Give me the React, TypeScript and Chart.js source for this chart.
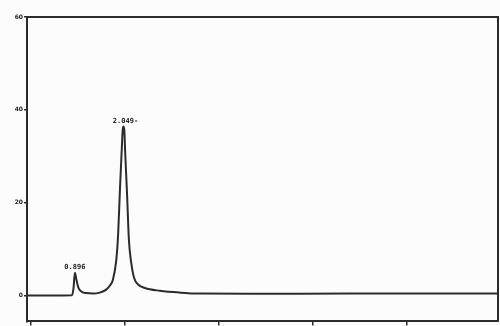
import React, { useEffect, useRef } from "react";
import { Chart, registerables } from "chart.js";

Chart.register(...registerables);

// retention time (min) and detector response
const times = [-0.08, 0.41, 0.88, 0.91, 0.94, 0.97, 1.01, 1.07, 1.18, 1.33, 1.47, 1.6, 1.69, 1.75, 1.82, 1.86, 1.9, 1.94, 1.957, 1.975, 1.993, 2.01, 2.05, 2.09, 2.14, 2.2, 2.28, 2.43, 2.75, 3.18, 3.6, 4.67, 6.8, 9.95];
const response = [0, 0, 0.05, 1.5, 4.9, 3.5, 1.8, 0.9, 0.5, 0.4, 0.6, 1.2, 2.2, 3.4, 7.5, 13, 23, 32, 35.5, 36.4, 35.5, 31, 22, 12, 7, 3.8, 2.4, 1.6, 1.0, 0.6, 0.4, 0.35, 0.4, 0.4];

const peakTimes = [0.94, 1.975];
const peakHeights = [4.9, 36.4];
const peakLabels = ["0.896", "2.049-"];

const yTicks = [0, 20, 40, 60];
const xTicks = [0, 2, 4, 6, 8, 10];

const ink = "#2b2b2b";

export default function App() {
  const ref = useRef<HTMLCanvasElement | null>(null);
  useEffect(() => {
    document.body.style.margin = "0";
    const canvas = ref.current!;
    const framePlugin = {
      id: "frame",
      afterDatasetsDraw(chart: any) {
        const { ctx, chartArea } = chart;
        ctx.save();
        ctx.strokeStyle = ink;
        ctx.lineWidth = 2;
        ctx.beginPath();
        ctx.moveTo(chartArea.left, chartArea.top);
        ctx.lineTo(chartArea.right, chartArea.top);
        ctx.lineTo(chartArea.right, chartArea.bottom);
        ctx.stroke();
        const xs = chart.scales.x;
        const ys = chart.scales.y;
        ctx.fillStyle = "#222";
        ctx.font = "bold 7px 'DejaVu Sans Mono', monospace";
        ctx.textAlign = "center";
        ctx.textBaseline = "bottom";
        peakTimes.forEach((t, i) => {
          const px = xs.getPixelForValue(t);
          const py = ys.getPixelForValue(peakHeights[i]);
          ctx.fillText(peakLabels[i], px + (i === 1 ? 2 : 0), py - 2);
        });
        ctx.restore();
      },
    };
    const chart = new Chart(canvas, {
      type: "line",
      data: {
        datasets: [
          {
            data: times.map((t, i) => ({ x: t, y: response[i] })),
            borderColor: ink,
            borderWidth: 2,
            pointRadius: 0,
            cubicInterpolationMode: "monotone",
            fill: false,
          },
        ],
      },
      options: {
        animation: false,
        responsive: false,
        layout: { padding: { top: 17, right: 2, left: 0, bottom: 0 } },
        plugins: { legend: { display: false }, tooltip: { enabled: false } },
        scales: {
          x: {
            type: "linear",
            min: -0.08,
            max: 9.95,
            afterBuildTicks: (s: any) => {
              s.ticks = xTicks.map((v) => ({ value: v }));
            },
            afterFit: (s: any) => {
              s.height = 4;
            },
            ticks: { display: false },
            grid: { drawOnChartArea: false, drawTicks: true, tickLength: 4, color: ink, lineWidth: 1.5 },
            border: { color: ink, width: 2 },
          },
          y: {
            min: -5.6,
            max: 60,
            afterBuildTicks: (s: any) => {
              s.ticks = yTicks.map((v) => ({ value: v }));
            },
            afterFit: (s: any) => {
              s.width = 27;
            },
            ticks: {
              color: "#222",
              font: { size: 6, weight: "bold", family: "'DejaVu Sans', sans-serif" },
              padding: 1,
            },
            grid: { drawOnChartArea: false, drawTicks: true, tickLength: 3, color: ink, lineWidth: 1.5 },
            border: { color: ink, width: 2 },
          },
        },
      },
      plugins: [framePlugin],
    });
    return () => chart.destroy();
  }, []);
  return (
    <div style={{ width: 500, height: 326, background: "#fcfcfd" }}>
      <canvas ref={ref} width={500} height={326} style={{ display: "block" }} />
    </div>
  );
}
